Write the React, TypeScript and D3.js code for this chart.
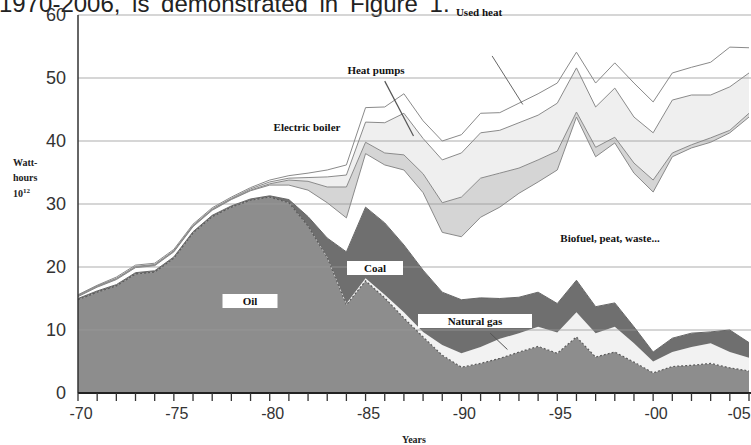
import React from 'react';
import * as d3 from 'd3';

// Years -70 ... -05
const years = [
  1970, 1971, 1972, 1973, 1974, 1975, 1976, 1977, 1978, 1979,
  1980, 1981, 1982, 1983, 1984, 1985, 1986, 1987, 1988, 1989,
  1990, 1991, 1992, 1993, 1994, 1995, 1996, 1997, 1998, 1999,
  2000, 2001, 2002, 2003, 2004, 2005,
];

// layer amounts, TWh (stacked bottom to top)
const oil = [
  14.8, 16.0, 17.0, 18.9, 19.2, 21.4, 25.4, 28.0, 29.5, 30.6,
  31.1, 30.2, 26.5, 21.5, 14.0, 17.8, 15.1, 11.9, 8.9, 6.0,
  4.1, 4.7, 5.5, 6.5, 7.4, 6.3, 8.9, 5.7, 6.5, 4.9,
  3.2, 4.2, 4.4, 4.7, 4.0, 3.5,
];
const naturalGas = [
  0, 0, 0, 0, 0, 0, 0, 0, 0, 0,
  0, 0, 0, 0.1, 0.2, 0.4, 0.5, 0.9, 0.8, 1.6,
  2.2, 2.6, 3.1, 3.0, 3.1, 3.3, 3.9, 3.8, 4.0, 3.0,
  1.8, 2.3, 2.9, 3.2, 2.5, 2.1,
];
const coal = [
  0.2, 0.2, 0.2, 0.2, 0.2, 0.2, 0.2, 0.2, 0.2, 0.2,
  0.2, 0.5, 1.5, 3.0, 8.2, 11.3, 11.4, 10.7, 9.8, 8.4,
  8.5, 7.8, 6.4, 5.7, 5.5, 4.6, 5.1, 4.2, 3.8, 2.6,
  1.5, 2.2, 2.2, 1.8, 3.5, 2.4,
];
const biofuel = [
  0.3, 0.6, 0.8, 0.8, 0.8, 0.8, 0.8, 0.8, 1.0, 1.3,
  1.7, 2.3, 4.2, 5.6, 5.4, 8.5, 9.2, 11.9, 12.3, 9.5,
  10.0, 12.8, 14.5, 16.5, 17.5, 21.2, 25.9, 23.8, 25.4, 24.4,
  25.4, 28.8, 29.4, 30.1, 31.3, 35.8,
];
const electricBoiler = [
  0.1, 0.1, 0.1, 0.1, 0.1, 0.1, 0.1, 0.1, 0.1, 0.1,
  0.2, 0.8, 1.4, 2.5, 4.9, 1.8, 1.9, 2.4, 3.0, 4.7,
  6.3, 6.2, 5.4, 4.0, 3.5, 3.0, 0.8, 1.5, 0.9, 1.6,
  1.9, 0.6, 0.5, 0.7, 0.4, 0.6,
];
const heatPumps = [
  0.1, 0.1, 0.1, 0.1, 0.1, 0.1, 0.1, 0.1, 0.1, 0.2,
  0.3, 0.3, 0.6, 1.6, 1.9, 3.2, 4.8, 6.6, 5.6, 6.8,
  7.0, 7.2, 6.8, 7.2, 7.1, 7.6, 7.0, 6.4, 7.8, 7.3,
  7.5, 8.4, 7.9, 6.8, 6.9, 6.4,
];
const usedHeat = [
  0.1, 0.1, 0.2, 0.2, 0.2, 0.2, 0.2, 0.2, 0.2, 0.2,
  0.3, 0.4, 0.7, 1.1, 1.6, 2.3, 2.5, 3.1, 2.8, 3.0,
  2.9, 3.1, 2.8, 3.1, 3.4, 3.2, 2.5, 3.8, 4.0, 5.4,
  4.9, 4.3, 4.4, 5.2, 6.3, 4.0,
];

const yTicks = [0, 10, 20, 30, 40, 50, 60];
const xLabelYears = [1970, 1975, 1980, 1985, 1990, 1995, 2000, 2005];
const xLabels = ['-70', '-75', '-80', '-85', '-90', '-95', '-00', '-05'];

const W = 751;
const H = 445;

const keys = ['oil', 'naturalGas', 'coal', 'biofuel', 'electricBoiler', 'heatPumps', 'usedHeat'];
const fills: Record<string, string> = {
  oil: '#8d8d8d',
  naturalGas: '#f2f2f2',
  coal: '#6f6f6f',
  biofuel: '#ffffff',
  electricBoiler: '#d5d5d5',
  heatPumps: '#efefef',
  usedHeat: '#ffffff',
};

const serif = '"Liberation Serif", "DejaVu Serif", serif';
const sans = '"Liberation Sans", Arial, sans-serif';

export default function App() {
  const x = d3.scaleLinear().domain([1970, 2005]).range([78, 749]);
  const y = d3.scaleLinear().domain([0, 60]).range([393, 15]);

  const rows = years.map((yr, i) => ({
    year: yr,
    oil: oil[i],
    naturalGas: naturalGas[i],
    coal: coal[i],
    biofuel: biofuel[i],
    electricBoiler: electricBoiler[i],
    heatPumps: heatPumps[i],
    usedHeat: usedHeat[i],
  }));
  const series = d3.stack<any>().keys(keys)(rows);

  const area = d3.area<any>()
    .x(d => x(d.data.year))
    .y0(d => y(d[0]))
    .y1(d => y(d[1]));
  const topLine = d3.line<any>()
    .x(d => x(d.data.year))
    .y(d => y(d[1]));

  const label = (txt: string, cx: number, cy: number, w: number) => (
    <g>
      <rect x={cx - w / 2} y={cy - 7} width={w} height={14} fill="#fff" />
      <text x={cx} y={cy + 4} textAnchor="middle" fontFamily={serif} fontWeight="bold" fontSize={11} fill="#111">{txt}</text>
    </g>
  );

  return (
    <div style={{ position: 'absolute', left: 0, top: 0 }}>
      <svg width={W} height={H} style={{ display: 'block', background: '#fff' }}>
        {/* running text of the page, cut at the top edge */}
        <text x={-1} y={12} fontFamily={sans} fontSize={24} fill="#222" wordSpacing={5}>
          1970-2006, is demonstrated in Figure 1.
        </text>

        {/* areas */}
        {series.map(s => (
          <path key={s.key} d={area(s) || ''} fill={fills[s.key]} />
        ))}

        {/* grid */}
        {yTicks.filter(t => t > 0).map(t => (
          <line key={t} x1={x(1970)} x2={W} y1={y(t)} y2={y(t)} stroke="#9a9a9a" strokeWidth={1} opacity={0.8} />
        ))}

        {/* layer edges */}
        {series.map(s => (
          <path
            key={'l' + s.key}
            d={topLine(s) || ''}
            fill="none"
            stroke={s.key === 'oil' ? '#5c5c5c' : s.key === 'naturalGas' ? 'none' : s.key === 'coal' ? '#666' : '#8a8a8a'}
            strokeWidth={s.key === 'oil' ? 1.2 : 1}
            strokeDasharray={s.key === 'oil' ? '2,2' : undefined}
          />
        ))}

        {/* axes */}
        <line x1={x(1970)} x2={x(1970)} y1={y(60)} y2={y(0)} stroke="#333" strokeWidth={1.5} />
        <line x1={x(1970)} x2={W} y1={y(0)} y2={y(0)} stroke="#222" strokeWidth={2} />
        {years.map(yr => (
          <line key={yr} x1={x(yr)} x2={x(yr)} y1={y(0)} y2={y(0) + 8} stroke="#333" strokeWidth={1.3} />
        ))}
        {yTicks.map(t => (
          <text key={t} x={66} y={y(t) + 6} textAnchor="end" fontFamily={sans} fontSize={18} fill="#333">{t}</text>
        ))}
        {xLabelYears.map((yr, i) => (
          <text key={yr} x={Math.min(x(yr) + 3, W - 12)} y={419} textAnchor="middle" fontFamily={sans} fontSize={16} fill="#333">{xLabels[i]}</text>
        ))}

        {/* axis titles */}
        <g fontFamily={serif} fontWeight="bold" fontSize={10} fill="#222">
          <text x={13} y={166}>Watt-</text>
          <text x={13} y={181}>hours</text>
          <text x={13} y={197}>10<tspan fontSize={7} dy={-4}>12</tspan></text>
          <text x={414} y={443} textAnchor="middle">Years</text>
        </g>

        {/* series labels */}
        {label('Oil', 250, 301, 55)}
        {label('Coal', 375, 268, 56)}
        {label('Natural gas', 475, 321, 114)}
        <line x1={x(1991.5)} y1={y(9.5)} x2={x(1992.4)} y2={y(6.9)} stroke="#555" strokeWidth={1} />

        <g fontFamily={serif} fontWeight="bold" fontSize={11} fill="#111">
          <text x={610} y={242} textAnchor="middle">Biofuel, peat, waste...</text>
          <text x={479} y={16} textAnchor="middle">Used heat</text>
          <text x={376} y={74} textAnchor="middle">Heat pumps</text>
          <text x={307} y={131} textAnchor="middle">Electric boiler</text>
        </g>
        <line x1={x(1991.6)} y1={y(53.5)} x2={x(1993.2)} y2={y(45.8)} stroke="#666" strokeWidth={1} />
        <line x1={x(1986)} y1={y(49.5)} x2={x(1987.5)} y2={y(40.8)} stroke="#555" strokeWidth={1.2} />
      </svg>
    </div>
  );
}
